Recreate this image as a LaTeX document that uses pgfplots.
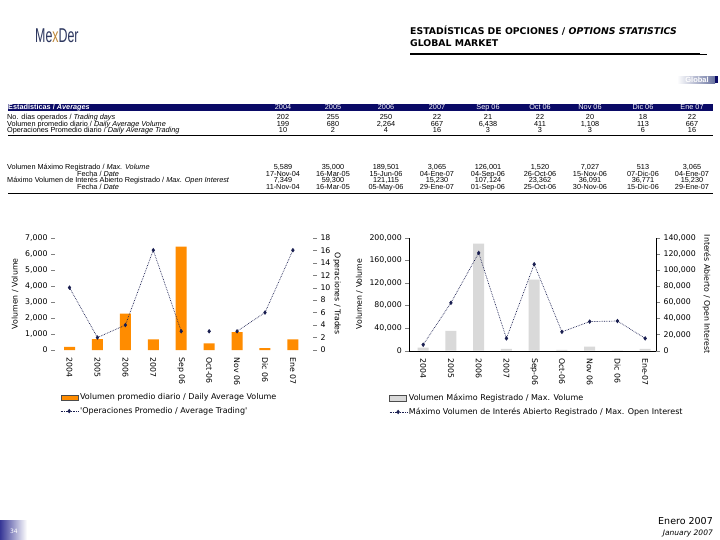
\documentclass[border=0pt]{standalone}
\usepackage{fontspec}
\setmainfont{DejaVu Sans}
\newfontfamily\arialf{Liberation Sans}
\usepackage{pgfplots}
\pgfplotsset{compat=1.18}
\pgfplotsset{/pgf/number format/assume math mode=true}

\definecolor{navy}{RGB}{10,10,102}
\definecolor{barorange}{RGB}{255,140,0}
\definecolor{bargray}{RGB}{217,217,217}
\definecolor{linecol}{RGB}{25,30,80}
\definecolor{logoblue}{RGB}{45,55,95}
\definecolor{logox}{RGB}{190,135,55}
\definecolor{tabblue}{RGB}{105,115,160}
\definecolor{pgblue}{RGB}{55,55,150}

\newcommand\tabfont{\arialf\fontsize{7.3bp}{8bp}\selectfont}
\newcommand\chfont{\fontsize{7.8bp}{9bp}\selectfont}
\newcommand\legfont{\fontsize{8bp}{9bp}\selectfont}

% one table row: y position, then x/value pairs
\newcommand\tabrow[2]{\foreach \x/\v in {#2} {\node[tab] at (\x,#1) {\v};}}

\begin{document}
\begin{tikzpicture}
\begin{scope}[x=1bp,y=-1bp, tab/.style={font=\tabfont, inner sep=0pt, anchor=center, text height=5.2bp, text depth=1.4bp}]
\path[fill=white, use as bounding box] (0,0) rectangle (720,540);

% header
\node[anchor=west, inner sep=0pt, text=logoblue] at (35,36)
  {\scalebox{0.62}[1]{\arialf\fontsize{20bp}{20bp}\selectfont Me\textcolor{logox}{x}Der}};
\node[anchor=west, inner sep=0pt, font=\fontsize{9.3bp}{10bp}\selectfont\bfseries] at (410,31)
  {ESTADÍSTICAS DE OPCIONES / \textit{OPTIONS STATISTICS}};
\node[anchor=west, inner sep=0pt, font=\fontsize{9.3bp}{10bp}\selectfont\bfseries] at (410,43)
  {GLOBAL MARKET};
\draw[line width=2.5bp] (410,54) -- (700,54);
\draw[line width=1bp] (699,54.6) -- (707,54.6);

\shade[left color=white, right color=tabblue] (677,76.5) rectangle (715,83.5);
\fill[navy] (715,76.5) rectangle (718,83.5);
\node[text=white, font=\arialf\fontsize{7.5bp}{8bp}\selectfont\bfseries, inner sep=0pt] at (697,80) {Global};

% table
\fill[navy] (8,104) rectangle (713,111);
\node[tab, anchor=west, text=white, font=\tabfont\bfseries] at (8,107.5) {Estadísticas / \textit{Averages}};
\begin{scope}[every node/.append style={text=white, font=\tabfont\bfseries}]
\tabrow{107.5}{283/2004,333/2005,386/2006,437/2007,488/Sep 06,540/Oct 06,590/Nov 06,643/Dic 06,692/Ene 07}
\end{scope}
\node[tab, anchor=west] at (7,117.6) {No. días operados / \textit{Trading days}};
\node[tab, anchor=west] at (7,124.3) {Volumen promedio diario / \textit{Daily Average Volume}};
\node[tab, anchor=west] at (7,131) {Operaciones Promedio diario / \textit{Daily Average Trading}};
\tabrow{117.6}{283/202,333/255,386/250,437/22,488/21,540/22,590/20,643/18,692/22}
\tabrow{124.3}{283/199,333/680,386/{2,264},437/667,488/{6,438},540/411,590/{1,108},643/113,692/667}
\tabrow{131}{283/10,333/2,386/4,437/16,488/3,540/3,590/3,643/6,692/16}
\draw[line width=1.6bp] (8,135.6) -- (713,135.6);

\node[tab, anchor=west] at (7,167.7) {Volumen Máximo Registrado / \textit{Max. Volume}};
\node[tab, anchor=west] at (77,174.3) {Fecha / \textit{Date}};
\node[tab, anchor=west] at (7,181) {Máximo Volumen de Interés Abierto Registrado / \textit{Max. Open Interest}};
\node[tab, anchor=west] at (77,187.5) {Fecha / \textit{Date}};
\tabrow{167.7}{283/{5,589},333/{35,000},386/{189,501},437/{3,065},488/{126,001},540/{1,520},590/{7,027},643/513,692/{3,065}}
\tabrow{174.3}{283/17-Nov-04,333/16-Mar-05,386/15-Jun-06,437/04-Ene-07,488/04-Sep-06,540/26-Oct-06,590/15-Nov-06,643/07-Dic-06,692/04-Ene-07}
\tabrow{181}{283/{7,349},333/{59,300},386/{121,115},437/{15,230},488/{107,124},540/{23,362},590/{36,091},643/{36,771},692/{15,230}}
\tabrow{187.5}{283/11-Nov-04,333/16-Mar-05,386/05-May-06,437/29-Ene-07,488/01-Sep-06,540/25-Oct-06,590/30-Nov-06,643/15-Dic-06,692/29-Ene-07}
\draw[line width=1bp] (8,193.3) -- (713,193.3);

% footer
\shade[left color=pgblue, right color=white] (0,520) rectangle (27,540);
\node[text=white, font=\fontsize{6bp}{7bp}\selectfont, inner sep=0pt] at (14,531.5) {34};
\node[anchor=east, inner sep=0pt, font=\fontsize{9.5bp}{10bp}\selectfont] at (713,521.5) {Enero 2007};
\node[anchor=east, inner sep=0pt, font=\fontsize{7.5bp}{8bp}\selectfont\itshape] at (713,533) {January 2007};
\end{scope}

% ---------- charts ----------
\pgfplotsset{
  chart/.style={
    scale only axis, anchor=south west,
    tick label style={font=\chfont},
    label style={font=\chfont},
    scaled y ticks=false,
    yticklabel style={/pgf/number format/.cd, fixed, precision=0, 1000 sep={,}},
    tick align=outside, major tick length=4bp,
    xtick={0,...,8},
    xticklabel style={rotate=-90, anchor=west},
    xtick style={draw=none},
  },
}
\begin{axis}[chart,
  at={(55bp,-350bp)}, width=258bp, height=112.3bp,
  xmin=-0.52, xmax=8.72, ymin=0, ymax=7000,
  axis x line*=bottom, axis y line*=left, axis line style={draw=none},
  ytick={0,1000,...,7000},
  xticklabels={2004,2005,2006,2007,Sep 06,Oct-06,Nov 06,Dic 06,Ene 07},
  ylabel={Volumen / Volume},
]
\addplot[ybar, bar width=11bp, fill=barorange, draw=none] coordinates {
(0,199) (1,680) (2,2264) (3,667) (4,6438) (5,411) (6,1108) (7,113) (8,667)};
\end{axis}
\begin{axis}[chart,
  at={(55bp,-350bp)}, width=258bp, height=112.3bp,
  xmin=-0.52, xmax=8.72, ymin=0, ymax=18,
  axis x line=none, axis y line*=right, axis line style={draw=none},
  ytick={0,2,...,18},
  ylabel={Operaciones / Trades}, ylabel style={rotate=180}, ylabel shift=-4bp,
  unbounded coords=jump,
  legend style={at={(rel axis cs:0.02,-0.37)}, anchor=north west, draw=none, fill=none,
    font=\legfont, inner sep=0pt, row sep=2bp},
  legend cell align=left,
]
\addlegendimage{area legend, fill=barorange, draw=black!70}
\addlegendentry{Volumen promedio diario / Daily Average Volume}
\addplot[linecol, line width=0.7bp, densely dotted, mark=diamond*, mark size=1.7bp, mark options={solid}] coordinates {
(0,10) (1,2) (2,4) (3,16) (4,3) (4.5,nan) (5,3) (5.5,nan) (6,3) (7,6) (8,16)};
\addlegendentry{\textquotesingle Operaciones Promedio / Average Trading\textquotesingle}
\end{axis}

\begin{axis}[chart,
  at={(409.3bp,-350.7bp)}, width=246.7bp, height=113bp,
  xmin=-0.5, xmax=8.39, ymin=0, ymax=200000,
  axis x line*=bottom, axis y line*=left,
  ytick={0,40000,80000,120000,160000,200000},
  xticklabels={2004,2005,2006,2007,Sep-06,Oct-06,Nov 06,Dic 06,Ene-07},
  ylabel={Volumen / Volume},
]
\addplot[ybar, bar width=11bp, fill=bargray, draw=none] coordinates {
(0,5589) (1,35000) (2,189501) (3,3065) (4,126001) (5,1520) (6,7027) (7,513) (8,3065)};
\end{axis}
\begin{axis}[chart,
  at={(409.3bp,-350.7bp)}, width=246.7bp, height=113bp,
  xmin=-0.5, xmax=8.39, ymin=0, ymax=140000,
  axis x line=none, axis y line*=right,
  ytick={0,20000,40000,60000,80000,100000,120000,140000},
  ylabel={Interés Abierto / Open Interest}, ylabel style={rotate=180},
  legend style={at={(rel axis cs:-0.082,-0.365)}, anchor=north west, draw=none, fill=none,
    font=\legfont, inner sep=0pt, row sep=2bp},
  legend cell align=left,
]
\addlegendimage{area legend, fill=bargray, draw=black!70}
\addlegendentry{Volumen Máximo Registrado / Max. Volume}
\addplot[linecol, line width=0.7bp, densely dotted, mark=diamond*, mark size=1.7bp, mark options={solid}] coordinates {
(0,7349) (1,59300) (2,121115) (3,15230) (4,107124) (5,23362) (6,36091) (7,36771) (8,15230)};
\addlegendentry{Máximo Volumen de Interés Abierto Registrado / Max. Open Interest}
\end{axis}
\end{tikzpicture}
\end{document}
